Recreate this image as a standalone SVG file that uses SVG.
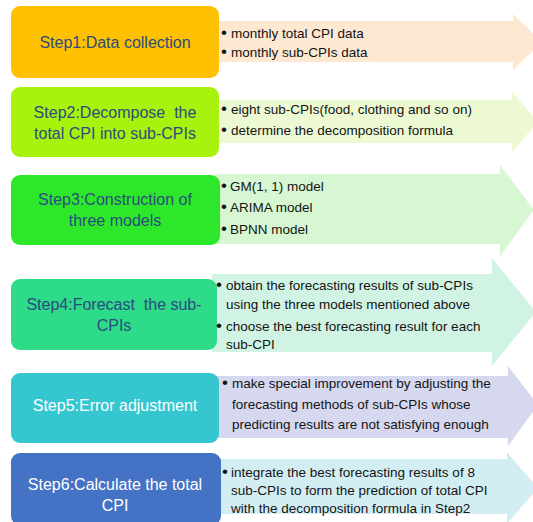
<svg xmlns="http://www.w3.org/2000/svg" width="533" height="522" viewBox="0 0 533 522">
<style>
.t{font-family:"Liberation Sans",Arial,sans-serif;font-size:16px;text-anchor:middle;fill:#2B4C7E;white-space:pre}
.tw{fill:#FFFFFF}
.b{font-family:"Liberation Sans",Arial,sans-serif;font-size:13.5px;fill:#141414}
.d{font-size:17px}
</style>
<rect width="533" height="522" fill="#FFFFFF"/>
<g id="step1">
<polygon points="215,21 513,21 513,14 542,42 513,70 513,62 215,62" fill="#FDE8D2"/>
<rect x="11" y="6" width="208" height="72" rx="9" fill="#FFC000"/>
<text class="t" x="115" y="48">Step1:Data collection</text>
<text class="b" x="221" y="38"><tspan class="d">•</tspan><tspan x="231">monthly total CPI data</tspan></text>
<text class="b" x="221" y="57"><tspan class="d">•</tspan><tspan x="231">monthly sub-CPIs data</tspan></text>
</g>
<g id="step2">
<polygon points="215,100 512,100 512,92 538,122 512,152 512,143 215,143" fill="#ECF9D2"/>
<rect x="11" y="87" width="208" height="70" rx="9" fill="#A8F20E"/>
<text class="t" x="115" y="118" xml:space="preserve">Step2:Decompose  the</text>
<text class="t" x="115" y="139">total CPI into sub-CPIs</text>
<text class="b" x="221" y="114"><tspan class="d">•</tspan><tspan x="231">eight sub-CPIs(food, clothing and so on)</tspan></text>
<text class="b" x="221" y="135"><tspan class="d">•</tspan><tspan x="231">determine the decomposition formula</tspan></text>
</g>
<g id="step3">
<polygon points="215,174 500,174 500,165 534,210 500,256 500,244 215,244" fill="#D6F7D1"/>
<rect x="11" y="175" width="209" height="70" rx="9" fill="#2DE82A"/>
<text class="t" x="115" y="205">Step3:Construction of</text>
<text class="t" x="115" y="226">three models</text>
<text class="b" x="221" y="191"><tspan class="d">•</tspan><tspan x="230">GM(1, 1) model</tspan></text>
<text class="b" x="221" y="212"><tspan class="d">•</tspan><tspan x="230">ARIMA model</tspan></text>
<text class="b" x="221" y="234"><tspan class="d">•</tspan><tspan x="230">BPNN model</tspan></text>
</g>
<g id="step4">
<polygon points="212,274 492,274 492,258 536,312 492,366 492,352 212,352" fill="#D1F3E3"/>
<rect x="11" y="279" width="206" height="71" rx="9" fill="#2DDB88"/>
<text class="t" x="114" y="310" xml:space="preserve">Step4:Forecast  the sub-</text>
<text class="t" x="114" y="331">CPIs</text>
<text class="b" x="216" y="290"><tspan class="d">•</tspan><tspan x="226">obtain the forecasting results of sub-CPIs</tspan></text>
<text class="b" x="226" y="309">using the three models mentioned above</text>
<text class="b" x="216" y="331"><tspan class="d">•</tspan><tspan x="226">choose the best forecasting result for each</tspan></text>
<text class="b" x="226" y="349">sub-CPI</text>
</g>
<g id="step5">
<polygon points="215,376 508,376 508,366 538,405 508,446 508,438 215,438" fill="#D5D8EE"/>
<rect x="11" y="373" width="208" height="70" rx="9" fill="#35C6CF"/>
<text class="t tw" x="115" y="411">Step5:Error adjustment</text>
<text class="b" x="222" y="388"><tspan class="d">•</tspan><tspan x="232">make special improvement by adjusting the</tspan></text>
<text class="b" x="232" y="409">forecasting methods of sub-CPIs whose</text>
<text class="b" x="232" y="429">predicting results are not satisfying enough</text>
</g>
<g id="step6">
<polygon points="215,459 507,459 507,452 538,488 507,524 507,514 215,514" fill="#D3EEF2"/>
<rect x="11" y="453" width="210" height="72" rx="9" fill="#4472C4"/>
<text class="t tw" x="115" y="490">Step6:Calculate the total</text>
<text class="t tw" x="115" y="511">CPI</text>
<text class="b" x="222" y="477"><tspan class="d">•</tspan><tspan x="231">integrate the best forecasting results of 8</tspan></text>
<text class="b" x="231" y="495">sub-CPIs to form the prediction of total CPI</text>
<text class="b" x="231" y="513">with the decomposition formula in Step2</text>
</g>
<g id="connectors"></g>
</svg>
